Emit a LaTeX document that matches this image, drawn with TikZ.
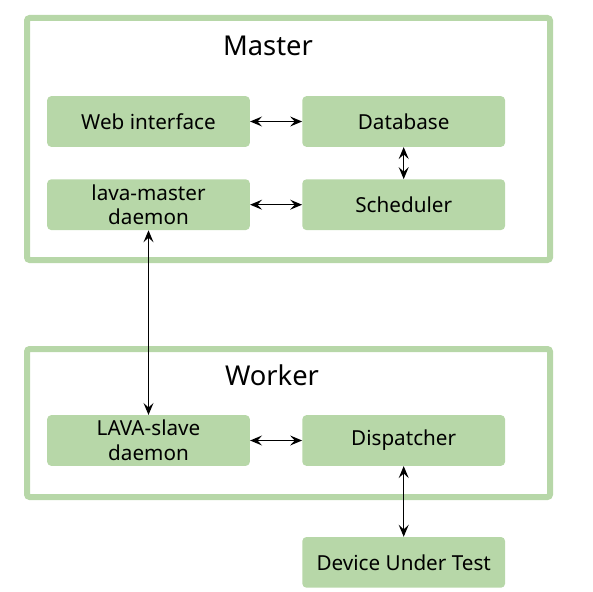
\documentclass[tikz,border=0pt]{standalone}
\usepackage{fontspec}
\setmainfont{Noto Sans}
\usepackage{tikz}
\usetikzlibrary{arrows.meta,positioning}

\definecolor{lavagreen}{HTML}{B7D7A8}

\begin{document}
\begin{tikzpicture}[x=0.75pt,y=-0.75pt,>={Stealth[length=9pt,width=7.5pt,inset=3.5pt]},
    box/.style={rectangle,rounded corners=3pt,fill=lavagreen,minimum width=152pt,
      minimum height=38pt,align=center,font=\fontsize{15.5pt}{18.5pt}\selectfont,inner sep=0pt},
    frame/.style={draw=lavagreen,line width=4.5pt,rounded corners=2pt},
    title/.style={font=\fontsize{20.5pt}{24pt}\selectfont},
    link/.style={<->,line width=0.9pt}]
    \useasboundingbox (0,0) rectangle (593,592);

    % master frame
    \draw[frame] (27,18) rectangle (550,260);
    \node[title] (mastertitle) at (268,46) {Master};
    \node[box] (web) at (148.5,121.5) {Web interface};
    \node[box] (db) [right=39pt of web] {Database};
    \node[box] (lavamaster) [below=24pt of web] {lava-master\\daemon};
    \node[box] (sched) [below=24pt of db] {Scheduler};

    % worker frame
    \draw[frame] (27,349) rectangle (550,497);
    \node[title] (workertitle) at (272,375) {Worker};
    \node[box] (slave) at (148.5,440.5) {LAVA-slave\\daemon};
    \node[box] (disp) [right=39pt of slave] {Dispatcher};
    \node[box] (dut) [below=53pt of disp] {Device Under Test};

    \path[link]
    (web) edge (db)
    (db) edge (sched)
    (lavamaster) edge (sched)
    (lavamaster) edge (slave)
    (slave) edge (disp)
    (disp) edge (dut)
    ;
\end{tikzpicture}
\end{document}
